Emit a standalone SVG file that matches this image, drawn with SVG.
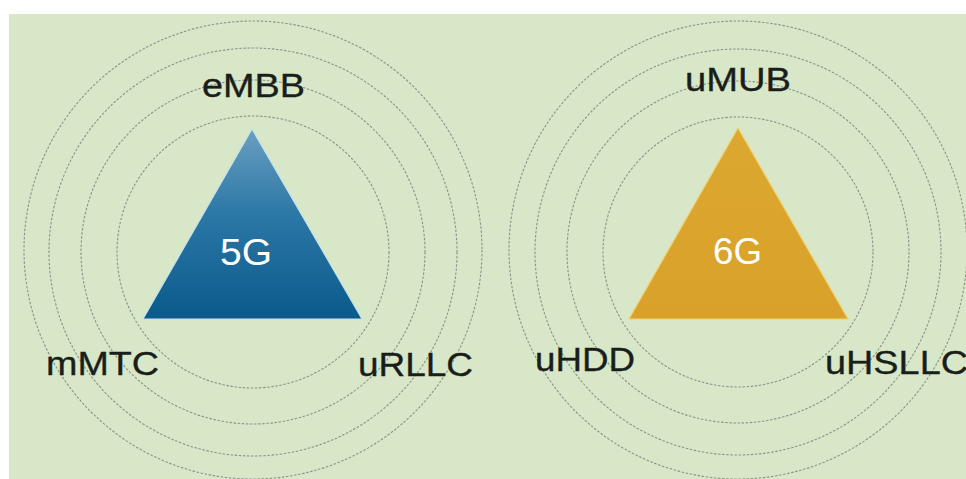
<svg xmlns="http://www.w3.org/2000/svg" width="966" height="479" viewBox="0 0 966 479">
  <defs>
    <linearGradient id="blueGrad" x1="0" y1="0" x2="0" y2="1">
      <stop offset="0" stop-color="#6a9fc0"/>
      <stop offset="0.45" stop-color="#2b77a6"/>
      <stop offset="1" stop-color="#0b5a8c"/>
    </linearGradient>
    <linearGradient id="goldGrad" x1="0" y1="0" x2="0" y2="1">
      <stop offset="0" stop-color="#dca830"/>
      <stop offset="1" stop-color="#d9a12a"/>
    </linearGradient>
  </defs>
  <style>
    .ring { fill: none; stroke: #8a9488; stroke-width: 1.1; stroke-dasharray: 2.5 1.6; }
    .lbl { font-family: "Liberation Sans", Arial, sans-serif; font-size: 34px; fill: #1a1e1a; stroke: #1a1e1a; stroke-width: 0.35; }
    .tri-lbl { font-family: "Liberation Sans", Arial, sans-serif; font-size: 36px; fill: #ffffff; }
  </style>
  <rect x="0" y="0" width="966" height="479" fill="#ffffff"/>
  <rect x="9" y="14" width="957" height="465" fill="#d8e7c8"/>

  <g id="rings-5g">
    <circle class="ring" cx="253" cy="252" r="136"/>
    <circle class="ring" cx="253" cy="252" r="172"/>
    <circle class="ring" cx="253" cy="252" r="204"/>
    <circle class="ring" cx="253" cy="250" r="229"/>
  </g>
  <g id="rings-6g">
    <circle class="ring" cx="738" cy="252" r="135"/>
    <circle class="ring" cx="738" cy="252" r="171"/>
    <circle class="ring" cx="738" cy="252" r="203"/>
    <circle class="ring" cx="738" cy="250" r="229"/>
  </g>

  <g id="connectors"/>

  <g id="node-5g">
    <polygon points="252,129 143,319 362,319" fill="url(#blueGrad)" stroke="#c6e2ea" stroke-width="1.2" stroke-linejoin="round"/>
    <text class="tri-lbl" x="220" y="265" textLength="52" lengthAdjust="spacingAndGlyphs">5G</text>
  </g>
  <g id="node-6g">
    <polygon points="738,128 629,319 848,319" fill="url(#goldGrad)" stroke="#f0cf6e" stroke-width="1.2" stroke-linejoin="round"/>
    <text class="tri-lbl" x="713" y="264" textLength="49" lengthAdjust="spacingAndGlyphs">6G</text>
  </g>

  <g id="label-embb"><text class="lbl" x="202" y="97" textLength="103" lengthAdjust="spacingAndGlyphs">eMBB</text></g>
  <g id="label-mmtc"><text class="lbl" x="46" y="375" textLength="113" lengthAdjust="spacingAndGlyphs">mMTC</text></g>
  <g id="label-urllc"><text class="lbl" x="358" y="376" textLength="115" lengthAdjust="spacingAndGlyphs">uRLLC</text></g>
  <g id="label-umub"><text class="lbl" x="685" y="91" textLength="106" lengthAdjust="spacingAndGlyphs">uMUB</text></g>
  <g id="label-uhdd"><text class="lbl" x="535" y="371" textLength="100" lengthAdjust="spacingAndGlyphs">uHDD</text></g>
  <g id="label-uhsllc"><text class="lbl" x="825" y="374" textLength="143" lengthAdjust="spacingAndGlyphs">uHSLLC</text></g>
</svg>
